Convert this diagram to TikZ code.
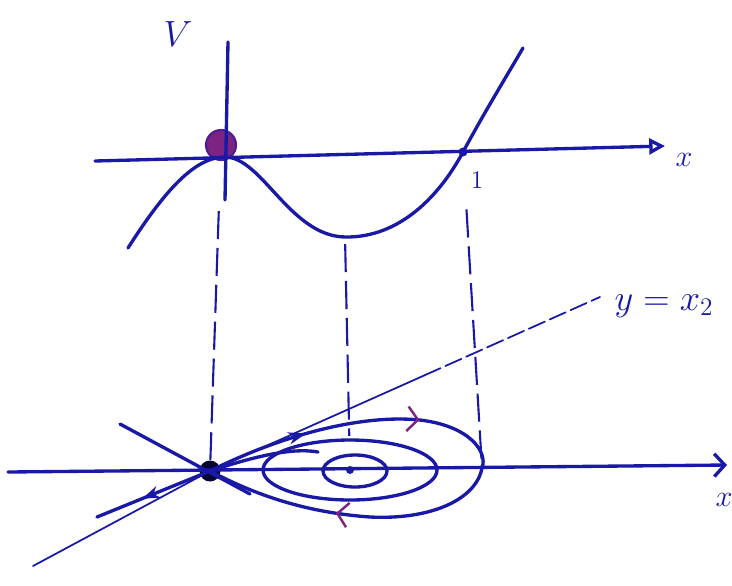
\documentclass[tikz,border=0pt]{standalone}
\usetikzlibrary{arrows.meta,positioning,calc,decorations.markings}
\definecolor{ink}{RGB}{25,25,165}
\definecolor{plum}{RGB}{125,35,130}

\begin{document}
\begin{tikzpicture}[
    x=0.02cm, y=-0.02cm,
    every node/.style={font=\huge},
    ink/.style={draw=ink, line width=1.9pt, line cap=round},
    thinink/.style={draw=ink, line width=1pt, line cap=round},
    proj/.style={draw=ink, line width=1.2pt, dash pattern=on 16pt off 5pt},
    dot/.style={circle, fill=ink, inner sep=0pt},
    lbl/.style={text=ink},
]
\useasboundingbox (0,0) rectangle (732,585);

% === TOP PANEL: potential V(x) ===
\coordinate (Vtop) at (228,42);
\coordinate (Vbot) at (225,200);
\coordinate (xl) at (95,161);
\coordinate (xr) at (665,146);
\node[circle, fill=plum, draw=ink!50!plum, line width=1.2pt, minimum size=0.6cm, inner sep=0pt] (O1) at (221,145) {};
\node[dot, minimum size=0.18cm] (A) at (463,152) {};
\coordinate (Vmin) at (345,237);

\draw[ink] (Vtop) -- (Vbot);
\draw[ink, -{Triangle[open, length=9pt, width=9pt]}] (xl) -- (xr);
\draw[ink] (128,248) .. controls (165,190) and (195,157) .. (225,157)
    .. controls (262,157) and (290,236) .. (Vmin)
    .. controls (400,238) and (440,195) .. (A.center)
    .. controls (483,115) and (503,82) .. (523,48);

\node[lbl] (Vlab) at (178,34) {$V$};
\node[lbl, font=\LARGE] (xtop) at (684,160) {$x$};
\node[lbl, font=\Large] (one) at (477,180) {$1$};

% === BOTTOM PANEL: phase plane ===
\node[dot, fill=black!70!ink, minimum size=0.42cm] (O2) at (210,471) {};
\node[dot, minimum size=0.16cm] (C) at (350,470) {};
\coordinate (R) at (482,468);
\coordinate (bl) at (8,472);
\coordinate (br) at (727,465);
\coordinate (L1) at (33,566);
\coordinate (L2) at (600,297);
\coordinate (S1) at (120,424);
\coordinate (S2) at (250,494);
\coordinate (W) at (97,517);

\draw[ink, -{Straight Barb[length=6pt, width=13pt]}] (bl) -- (br);
\draw[thinink] (L1) -- (O2.center) -- ($(O2)!0.55!(L2)$);
\draw[thinink, dash pattern=on 10pt off 3pt] ($(O2)!0.55!(L2)$) -- (L2);
\draw[ink] (S1) -- (S2);

% separatrices
\draw[ink, postaction={decorate}, decoration={markings,
    mark=at position 0.6 with {\arrow[ink]{Stealth[length=10pt, width=7pt]}}}]
    (O2.center) -- (W);
\draw[ink, postaction={decorate}, decoration={markings,
    mark=at position 0.17 with {\arrow[ink]{Stealth[length=10pt, width=7pt]}},
    mark=at position 0.36 with {\arrow[plum, line width=1.4pt]{Straight Barb[length=6pt, width=14pt]}},
    mark=at position 0.78 with {\arrow[plum, line width=1.4pt]{Straight Barb[length=6pt, width=14pt]}}}]
    (O2.center) .. controls (280,436) and (360,414) .. (420,420)
    .. controls (470,426) and (488,452) .. (R)
    .. controls (476,500) and (430,520) .. (370,517)
    .. controls (300,512) and (250,492) .. (O2.center);
\draw[ink] (O2.center) .. controls (250,458) and (290,447) .. (318,452);

% closed orbits round the centre
\draw[ink] (350,470) ellipse [x radius=87, y radius=30];
\draw[ink] (355,471) ellipse [x radius=32, y radius=16];

% projections
\draw[proj, shorten <=1cm] (O1) -- (O2);
\draw[proj, shorten <=4pt, shorten >=17pt] (Vmin) -- (C);
\draw[proj, shorten <=30pt] (A) -- (R);

\node[lbl] (ylab) at (664,306) {$y = x_2$};
\node[lbl, font=\LARGE] (xbot) at (724,500) {$x$};

\end{tikzpicture}
\end{document}
